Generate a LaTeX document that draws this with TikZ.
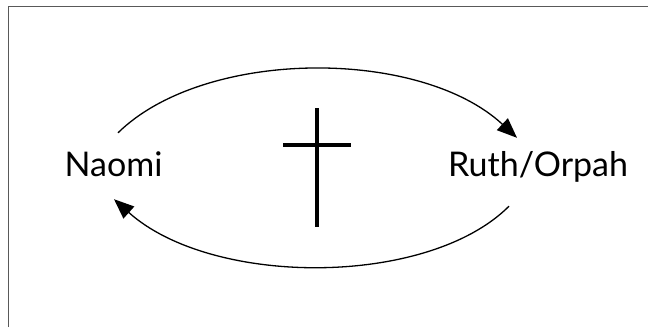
\documentclass[tikz,border=0pt]{standalone}
\usepackage{fontspec}
\setmainfont{Lato}
\usepackage{tikz}
\usetikzlibrary{arrows.meta, positioning, calc}

\begin{document}
\begin{tikzpicture}[
    x=1pt, y=-1pt,
    person/.style={inner sep=0pt, text height=25pt, text depth=7pt, font=\fontsize{34}{40}\selectfont, anchor=base},
    arrow/.style={-{Triangle[length=20pt, width=16pt]}, line width=1.3pt},
    frame/.style={draw=black!65, line width=1.4pt}
]
\useasboundingbox (0,0) rectangle (648,327);

% Frame (top and left edges only)
\draw[frame] (8.5,327) -- (8.5,6.5) -- (648,6.5);

% Naomi
\node[person] (naomi) at (113.5,176) {Naomi};

% Ruth/Orpah
\node[person] (ruth) at (538,176) {Ruth/Orpah};

% Cross
\draw[line width=3.2pt] (317,108) -- (317,227);
\draw[line width=3.2pt] (283,145) -- (351,145);

% Connections
\draw[arrow] ($(naomi.north)+(4.5,-18)$) .. controls +(87,-85) and +(-97,-90) .. ($(ruth.north)+(-21,-13)$);
\draw[arrow] ($(ruth.south)+(-29,23)$) .. controls +(-81,81) and +(98,88) .. ($(naomi.south)+(0.5,16)$);

\end{tikzpicture}
\end{document}
